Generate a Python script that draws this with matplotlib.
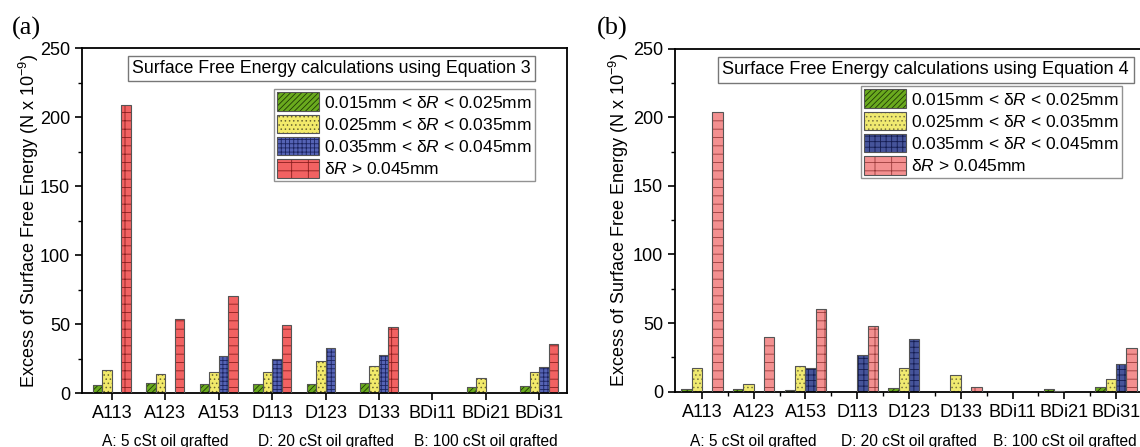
import numpy as np
import matplotlib

matplotlib.use("Agg")
import matplotlib.pyplot as plt
from matplotlib.patches import Patch
from matplotlib.legend_handler import HandlerTuple
from matplotlib.ticker import MultipleLocator

plt.rcParams["font.family"] = ["Liberation Sans", "DejaVu Sans"]
plt.rcParams["mathtext.fontset"] = "custom"
plt.rcParams["mathtext.rm"] = "Liberation Sans"
plt.rcParams["mathtext.it"] = "Liberation Sans:italic"
plt.rcParams["hatch.linewidth"] = 0.6

categories = ["A113", "A123", "A153", "D113", "D123", "D133", "BDi11", "BDi21", "BDi31"]
series_labels = [
    "0.015mm < δ$R$ < 0.025mm",
    "0.025mm < δ$R$ < 0.035mm",
    "0.035mm < δ$R$ < 0.045mm",
    "δ$R$ > 0.045mm",
]
group_notes = ["A: 5 cSt oil grafted", "D: 20 cSt oil grafted", "B: 100 cSt oil grafted"]
nan = np.nan

# Equation 3 (panel a)
eq3_green = [6.0, 7.5, 7.0, 7.0, 6.8, 7.7, nan, 4.6, 5.0]
eq3_yellow = [16.7, 14.3, 15.7, 15.2, 23.2, 19.8, nan, 11.1, 15.2]
eq3_blue = [nan, nan, 26.8, 24.9, 32.6, 28.0, nan, nan, 19.3]
eq3_red = [209.0, 53.6, 70.5, 49.3, nan, 47.8, nan, nan, 35.7]

# Equation 4 (panel b)
eq4_green = [2.2, 1.7, 1.0, nan, 2.9, nan, nan, 2.2, 3.2]
eq4_yellow = [17.6, 5.3, 18.6, nan, 17.5, 11.9, nan, 0.7, 9.2]
eq4_blue = [nan, nan, 17.6, 27.0, 38.1, nan, nan, nan, 19.9]
eq4_red = [203.5, 39.9, 60.6, 48.0, nan, 3.2, nan, nan, 31.6]

STYLE_A = [
    ("#6aaa1e", "#1f3a05", "//////"),
    ("#f2ea6a", "#6a6530", "...."),
    ("#5563b5", "#1c2460", "++++"),
    ("#f26262", "#8a1f1f", "-+"),
]
STYLE_B = [
    ("#6aaa1e", "#1f3a05", "//////"),
    ("#f0ea70", "#7a7540", "...."),
    ("#46549a", "#141c50", "+++"),
    ("#f39090", "#9a3a3a", "-+"),
]


def draw_panel(fig, rect, xlim, series, styles, width, title, title_xy, title_size, legend_xy, minor_x):
    ax = fig.add_axes(rect)
    x = np.arange(len(categories))
    handles = []
    for i, (vals, (fill, hatch_col, hatch)) in enumerate(zip(series, styles)):
        pos = x + (i - 1.5) * width
        vals = np.asarray(vals, dtype=float)
        ax.bar(pos, vals, width, color=fill, edgecolor=hatch_col, hatch=hatch, linewidth=0, zorder=2)
        ax.bar(pos, vals, width, fill=False, edgecolor="#555555", linewidth=0.8, zorder=3)
        handles.append((
            Patch(facecolor=fill, edgecolor=hatch_col, hatch=hatch, linewidth=0),
            Patch(fill=False, edgecolor="#555555", linewidth=0.8),
        ))

    ax.set_xlim(*xlim)
    ax.set_ylim(0, 250)
    ax.set_xticks(x)
    ax.set_xticklabels(categories, fontsize=13)
    ax.yaxis.set_major_locator(MultipleLocator(50))
    ax.yaxis.set_minor_locator(MultipleLocator(25))
    if minor_x:
        ax.set_xticks(x[:-1] + 0.5, minor=True)
    ax.tick_params(axis="both", which="major", direction="out", length=5, width=1.2, labelsize=13)
    ax.tick_params(axis="both", which="minor", direction="out", length=3, width=1.0)
    for sp in ax.spines.values():
        sp.set_linewidth(1.3)
    ax.set_ylabel("Excess of Surface Free Energy (N x 10$^{-9}$)", fontsize=13)

    fig.text(title_xy[0], title_xy[1], title, ha="right", va="center", fontsize=title_size,
             bbox=dict(boxstyle="square,pad=0.25", facecolor="white", edgecolor="#777777", linewidth=1.0))
    ax.legend(handles, series_labels, handler_map={tuple: HandlerTuple(ndivide=1)},
              loc="upper right", bbox_to_anchor=legend_xy, bbox_transform=fig.transFigure,
              fontsize=12.5, frameon=True, fancybox=False, edgecolor="#777777",
              handlelength=2.4, handleheight=1.3, handletextpad=0.3, labelspacing=0.18,
              borderpad=0.2, borderaxespad=0)
    ax.get_legend().get_frame().set_linewidth(1.0)
    return ax


W, H = 1140, 447
fig = plt.figure(figsize=(W / 100, H / 100), dpi=100)

ax_a = draw_panel(
    fig,
    [82 / W, 1 - 393.3 / H, 485 / W, 345.3 / H],
    (-0.56, 8.52),
    [eq3_green, eq3_yellow, eq3_blue, eq3_red],
    STYLE_A,
    0.178,
    "Surface Free Energy calculations using Equation 3",
    (531 / W, 1 - 68.5 / H),
    12.8,
    (535 / W, 1 - 89 / H),
    False,
)
ax_a.yaxis.set_label_coords(-0.085, 0.5)

ax_b = draw_panel(
    fig,
    [675 / W, 1 - 391.7 / H, 467 / W, 343 / H],
    (-0.52, 8.5),
    [eq4_green, eq4_yellow, eq4_blue, eq4_red],
    STYLE_B,
    0.2,
    "Surface Free Energy calculations using Equation 4",
    (1129 / W, 1 - 70 / H),
    13.1,
    (1122 / W, 1 - 86 / H),
    True,
)
ax_b.yaxis.set_label_coords(-0.094, 0.5)

fig.text(26 / W, 1 - 28 / H, "(a)", ha="center", va="center", fontsize=19, family=["Liberation Serif"])
fig.text(612 / W, 1 - 28 / H, "(b)", ha="center", va="center", fontsize=19, family=["Liberation Serif"])

for ax in (ax_a, ax_b):
    for note, idx in zip(group_notes, (1, 4, 7)):
        xf = fig.transFigure.inverted().transform(ax.transData.transform((idx, 0)))[0]
        fig.text(xf, 1 - 434 / H, note, ha="center", va="top", fontsize=11.2)

fig.savefig("out.png", dpi=100)
